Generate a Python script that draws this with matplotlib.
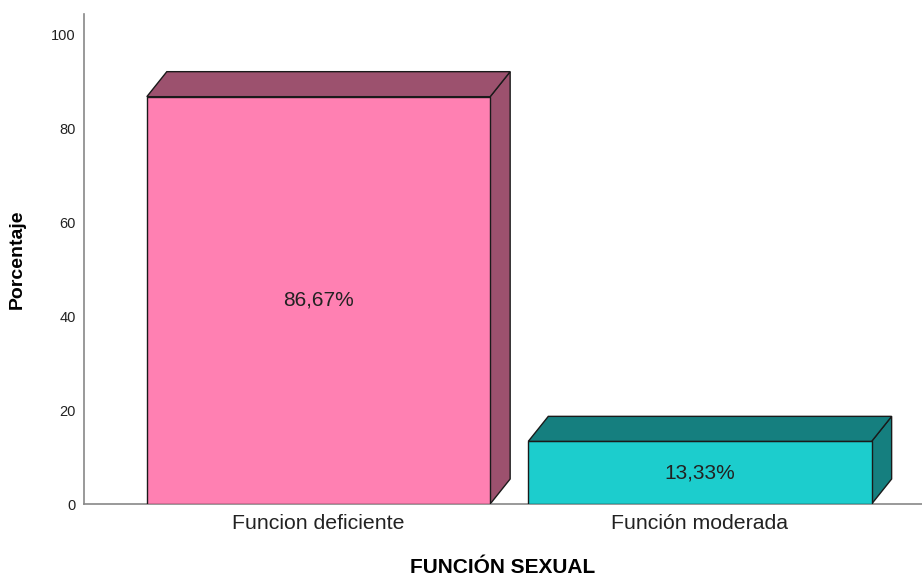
import numpy as np
import matplotlib.pyplot as plt
from matplotlib.patches import Polygon

plt.rcParams['font.family'] = ['Liberation Sans', 'DejaVu Sans']

categorias = ['Funcion deficiente', 'Función moderada']
porcentajes = [86.67, 13.33]
etiquetas = ['86,67%', '13,33%']
color_frente = ['#FF80B2', '#1CCDCD']
color_lado = ['#9C516E', '#157F7F']

fig = plt.figure(figsize=(9.22, 5.79), dpi=100)
ax = fig.add_axes([84/922, 75/579, 838/922, 490/579])

x = np.arange(len(categorias))
ancho = 0.9
dx = 0.0524   # profundidad en x (unidades de datos)
dy = 5.32     # profundidad en y

barras = ax.bar(x, porcentajes, width=ancho, color=color_frente,
                edgecolor='#1a1a1a', linewidth=1.0, zorder=3)

for i, v in enumerate(porcentajes):
    x0 = x[i] - ancho / 2
    x1 = x[i] + ancho / 2
    techo = Polygon([(x0, v), (x0 + dx, v + dy), (x1 + dx, v + dy), (x1, v)],
                    closed=True, facecolor=color_lado[i], edgecolor='#1a1a1a',
                    linewidth=1.0, zorder=3)
    lado = Polygon([(x1, 0), (x1 + dx, dy), (x1 + dx, v + dy), (x1, v)],
                   closed=True, facecolor=color_lado[i], edgecolor='#1a1a1a',
                   linewidth=1.0, zorder=2)
    ax.add_patch(lado)
    ax.add_patch(techo)
    ax.text(x[i], v / 2, etiquetas[i], ha='center', va='center',
            fontsize=15, color='#222222', zorder=4)

ax.set_xlim(-0.6147, 1.582)
ax.set_ylim(0, 104.26)
ax.set_yticks([0, 20, 40, 60, 80, 100])
ax.set_xticks(x)
ax.set_xticklabels(categorias, fontsize=15.3, color='#222222')
ax.tick_params(axis='y', length=0, pad=6, labelsize=10.5, labelcolor='#222222')
ax.tick_params(axis='x', length=0, pad=7)

for s in ['top', 'right']:
    ax.spines[s].set_visible(False)
ax.spines['left'].set_color('#888888')
ax.spines['bottom'].set_color('#888888')
ax.spines['left'].set_linewidth(1.2)
ax.spines['bottom'].set_linewidth(1.2)

ax.set_ylabel('Porcentaje', fontsize=14, fontweight='bold', labelpad=18)
ax.set_xlabel('FUNCIÓN SEXUAL', fontsize=15, fontweight='bold', labelpad=18)

fig.savefig('out.png', dpi=100)
